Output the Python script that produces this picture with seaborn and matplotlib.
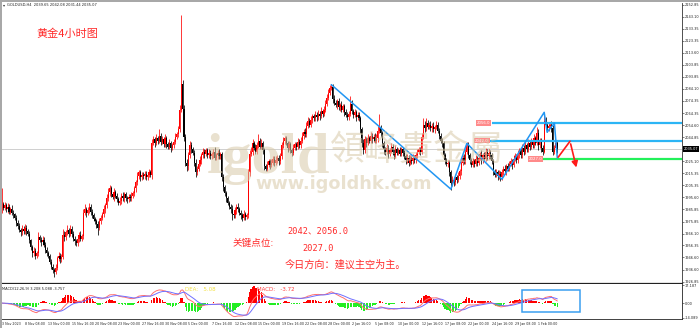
import numpy as np
import pandas as pd
import matplotlib
matplotlib.use("Agg")
import matplotlib.pyplot as plt
from matplotlib.patches import Rectangle
import seaborn as sns

# ---------------- data (GOLD H4, one value per 4h bar) ----------------
first_open = 1986.0
closes = [
    1990, 1987, 1989, 1986, 1988, 1984, 1986, 1983, 1982, 1979, 1975, 1972, 1969, 1967, 1970, 1968,
    1971, 1968, 1966, 1961, 1955, 1950, 1952, 1948, 1950, 1963, 1961, 1959, 1961, 1957, 1953, 1950,
    1948, 1943, 1939, 1936, 1935, 1938, 1946, 1948, 1945, 1947, 1965, 1963, 1967, 1969, 1966, 1970,
    1966, 1962, 1960, 1958, 1962, 1965, 1962, 1964, 1983, 1986, 1983, 1985, 1988, 1984, 1981, 1978,
    1976, 1974, 1971, 1976, 1979, 1982, 1986, 1989, 1995, 2000, 2003, 1998, 1996, 2000, 1997, 1994,
    1991, 1993, 1997, 1995, 1998, 1995, 1994, 1996, 1995, 1997, 1999, 2003, 2008, 2013, 2016, 2012,
    2014, 2013, 2015, 2012, 2014, 2016, 2014, 2040, 2043, 2040, 2044, 2042, 2046, 2041, 2043, 2039,
    2044, 2039, 2037, 2040, 2036, 2038, 2041, 2045, 2047, 2051, 2067, 2088, 2068, 2045, 2024, 2021,
    2030, 2038, 2035, 2032, 2024, 2016, 2019, 2023, 2026, 2030, 2033, 2031, 2034, 2030, 2032, 2029,
    2031, 2033, 2028, 2030, 2032, 2029, 2031, 2012, 2004, 1999, 1995, 1991, 1988, 1986, 1982, 1981,
    1985, 1988, 1986, 1983, 1981, 1979, 1982, 1980, 1981, 2016, 2031, 2033, 2040, 2036, 2033, 2038,
    2042, 2037, 2040, 2034, 2021, 2019, 2022, 2025, 2022, 2024, 2027, 2024, 2026, 2028, 2025, 2029,
    2038, 2042, 2044, 2040, 2036, 2039, 2034, 2032, 2036, 2039, 2037, 2041, 2038, 2042, 2046, 2049,
    2047, 2054, 2058, 2055, 2059, 2062, 2060, 2063, 2061, 2064, 2062, 2066, 2064, 2067, 2072, 2077,
    2081, 2085, 2086, 2076, 2073, 2071, 2074, 2069, 2071, 2067, 2070, 2065, 2063, 2061, 2064, 2072,
    2066, 2063, 2065, 2061, 2063, 2060, 2051, 2040, 2034, 2043, 2040, 2044, 2042, 2046, 2043, 2045,
    2042, 2044, 2050, 2052, 2048, 2040, 2035, 2033, 2036, 2031, 2034, 2037, 2033, 2030, 2035, 2032,
    2034, 2031, 2035, 2032, 2029, 2026, 2028, 2024, 2027, 2025, 2028, 2026, 2030, 2033, 2035, 2033,
    2045, 2055, 2052, 2056, 2053, 2055, 2052, 2054, 2051, 2053, 2055, 2050, 2046, 2042, 2040, 2030,
    2026, 2023, 2024, 2016, 2007, 2010, 2008, 2012, 2010, 2013, 2017, 2024, 2028, 2025, 2033, 2038,
    2030, 2026, 2022, 2025, 2023, 2027, 2024, 2028, 2031, 2026, 2030, 2027, 2033, 2029, 2032, 2030,
    2025, 2017, 2014, 2016, 2013, 2015, 2012, 2016, 2019, 2017, 2021, 2019, 2023, 2025, 2022, 2027,
    2029, 2026, 2031, 2034, 2030, 2036, 2033, 2038, 2035, 2040, 2037, 2041, 2038, 2044, 2040, 2048,
    2038, 2042, 2036, 2033, 2058, 2055, 2052, 2054, 2055, 2052, 2033, 2036, 2039.65, 2035.07,
]
wick_up = [
    13, 2, 3, 2, 3, 2, 2, 3, 2, 1, 2, 2, 3, 2, 3, 2,
    3, 2, 2, 2, 1, 2, 3, 2, 2, 4, 2, 2, 3, 2, 2, 2,
    2, 1, 2, 2, 2, 3, 2, 3, 2, 2, 5, 3, 2, 4, 2, 3,
    2, 2, 2, 2, 3, 2, 3, 2, 3, 4, 2, 3, 3, 2, 2, 2,
    2, 2, 2, 3, 2, 2, 3, 2, 3, 3, 3, 2, 2, 3, 2, 2,
    2, 3, 2, 3, 2, 2, 2, 2, 2, 3, 2, 2, 2, 3, 2, 2,
    2, 2, 2, 2, 2, 3, 2, 3, 3, 2, 3, 2, 5, 2, 3, 2,
    3, 2, 2, 3, 2, 2, 2, 3, 2, 3, 4, 56.5, 3, 3, 2, 3,
    3, 4, 3, 2, 2, 3, 2, 2, 3, 2, 3, 2, 2, 2, 3, 2,
    2, 2, 4, 2, 2, 3, 2, 2, 3, 2, 2, 2, 2, 2, 3, 2,
    3, 2, 3, 2, 2, 2, 3, 2, 2, 3, 3, 4, 3, 2, 3, 3,
    5, 2, 3, 2, 2, 2, 3, 2, 2, 3, 2, 2, 3, 2, 2, 3,
    3, 3, 2, 2, 2, 3, 2, 2, 3, 2, 2, 3, 2, 3, 3, 2,
    3, 3, 3, 2, 3, 2, 2, 3, 2, 3, 2, 3, 2, 3, 3, 3,
    3, 2, 2, 2, 3, 2, 2, 3, 2, 3, 2, 2, 3, 2, 2, 6,
    3, 2, 3, 2, 2, 2, 2, 2, 3, 3, 2, 3, 2, 3, 2, 2,
    3, 3, 4, 12, 3, 2, 2, 2, 3, 2, 2, 3, 2, 2, 3, 2,
    2, 3, 2, 2, 2, 2, 3, 2, 3, 2, 3, 2, 3, 2, 2, 2,
    3, 5, 3, 4, 3, 2, 3, 2, 3, 2, 3, 2, 2, 2, 2, 2,
    2, 2, 2, 2, 2, 3, 2, 3, 2, 3, 2, 3, 2, 3, 2, 3,
    3, 2, 2, 3, 2, 3, 2, 3, 2, 3, 2, 3, 3, 2, 3, 2,
    2, 2, 2, 3, 2, 3, 2, 3, 2, 3, 2, 3, 2, 3, 2, 3,
    3, 2, 3, 2, 2, 3, 2, 3, 2, 3, 2, 3, 2, 3, 2, 5,
    3, 2, 2, 2, 7, 3, 2, 2, 1, 3, 3, 2, 2, 2.43,
]
wick_dn = [
    3, 2, 2, 2, 3, 2, 2, 2, 3, 2, 3, 2, 2, 3, 2, 2,
    2, 3, 2, 3, 2, 3, 2, 3, 2, 2, 2, 3, 2, 2, 3, 2,
    2, 2, 2, 2, 4, 2, 2, 2, 3, 2, 2, 3, 2, 2, 3, 2,
    3, 2, 3, 2, 2, 3, 2, 2, 2, 2, 3, 2, 2, 3, 2, 2,
    2, 3, 6, 2, 2, 2, 2, 3, 2, 2, 3, 2, 2, 3, 2, 2,
    2, 2, 3, 2, 3, 2, 3, 2, 2, 2, 2, 2, 3, 2, 2, 3,
    2, 2, 2, 2, 2, 2, 2, 3, 2, 3, 2, 3, 2, 3, 2, 2,
    2, 3, 2, 2, 3, 2, 2, 2, 2, 2, 2, 2, 3, 3, 3, 4,
    3, 2, 3, 2, 3, 4, 2, 2, 2, 3, 2, 3, 2, 2, 2, 2,
    2, 3, 2, 2, 3, 2, 2, 3, 3, 2, 3, 2, 2, 3, 5, 2,
    2, 3, 2, 2, 3, 3, 2, 3, 2, 2, 3, 2, 3, 2, 2, 2,
    2, 2, 2, 3, 3, 2, 2, 2, 3, 2, 2, 3, 2, 2, 3, 2,
    2, 2, 3, 2, 3, 2, 2, 3, 2, 2, 3, 2, 2, 2, 2, 3,
    2, 2, 2, 2, 2, 3, 2, 2, 3, 2, 3, 2, 3, 2, 2, 2,
    2, 2, 2, 3, 2, 2, 3, 2, 3, 2, 2, 3, 2, 2, 2, 2,
    2, 3, 2, 3, 2, 2, 3, 3, 3, 2, 3, 2, 2, 2, 3, 2,
    2, 2, 3, 2, 3, 3, 4, 3, 2, 3, 2, 2, 3, 3, 2, 2,
    2, 2, 2, 3, 2, 3, 2, 3, 2, 2, 2, 2, 2, 2, 2, 3,
    2, 2, 3, 2, 2, 2, 2, 3, 2, 3, 2, 2, 3, 2, 3, 3,
    3, 2, 3, 3, 5, 2, 3, 2, 3, 2, 2, 3, 2, 2, 2, 2,
    2, 3, 2, 2, 3, 2, 3, 2, 2, 3, 2, 2, 2, 3, 2, 3,
    2, 3, 2, 2, 3, 2, 3, 2, 2, 2, 3, 2, 2, 2, 3, 2,
    2, 2, 2, 3, 2, 2, 3, 2, 2, 2, 3, 2, 2, 2, 2, 2,
    4, 2, 3, 3, 1, 2, 3, 2, 2, 3, 3, 2, 2, 3.63,
]

x_tick_labels = [
    "3 Nov 2023", "8 Nov 08:00", "13 Nov 00:00", "15 Nov 16:00", "20 Nov 08:00",
    "23 Nov 00:00", "27 Nov 16:00", "30 Nov 08:00", "5 Dec 00:00", "7 Dec 16:00",
    "12 Dec 08:00", "15 Dec 00:00", "19 Dec 16:00", "22 Dec 08:00", "28 Dec 00:00",
    "2 Jan 16:00", "5 Jan 08:00", "10 Jan 00:00", "12 Jan 16:00", "17 Jan 08:00",
    "22 Jan 00:00", "24 Jan 16:00", "29 Jan 08:00", "1 Feb 00:00",
]
bars_per_label = 16
price_ticks = [2152.85, 2143.10, 2133.35, 2123.35, 2113.60, 2103.85, 2093.85, 2084.10,
               2074.35, 2064.35, 2054.60, 2044.85, 2025.10, 2015.35, 2005.35, 1995.60,
               1985.85, 1975.85, 1966.10, 1956.35, 1946.60, 1936.60, 1926.85]
current_price = 2035.07
title_text = "GOLDUSD,H4  2039.65 2042.08 2031.44 2035.07"

macd_ticks = [17.187, 0.0, -14.089]
macd_tick_labels = ["17.187", "0.00", "-14.089"]
macd_title = "MACD(12,26,9) 3.208 5.088 -3.757"

level_prices = [2056.0, 2042.0, 2027.0]
level_start = [336, 335, 371]
level_colors = ["#2cb5f5", "#2cb5f5", "#22f05a"]
level_label_x = [330.4, 329.4, 366.0]
level_labels = ["2056.0", "2042.0", "2027.0"]

zz_idx = [226, 308, 319, 343, 372, 374, 379, 381]
zz_price = [2087.6, 2002.3, 2039.7, 2010.4, 2065.0, 2048.8, 2056.1, 2027.6]
arrow_idx = [381.6, 389.7, 394.5]
arrow_price = [2028.4, 2041.4, 2017.8]

box_idx = [356.5, 396.5]
box_val = [-9.1, 12.8]

# ---------------- derived table ----------------
n = len(closes)
idx = np.arange(n)
opens = [first_open] + closes[:-1]
highs = [max(o, c) + u for o, c, u in zip(opens, closes, wick_up)]
lows = [min(o, c) - d for o, c, d in zip(opens, closes, wick_dn)]
df = pd.DataFrame(dict(i=idx, open=opens, high=highs, low=lows, close=closes))
s = df["close"]
dif = s.ewm(span=12, adjust=False).mean() - s.ewm(span=26, adjust=False).mean()
dea = dif.ewm(span=9, adjust=False).mean()
hist = 2 * (dif - dea)

# ---------------- style ----------------
sns.set_style("white")
plt.rcParams["font.family"] = ["DejaVu Sans", "Noto Sans CJK SC"]
plt.rcParams["axes.linewidth"] = 0.6

W, H = 700, 328
fig = plt.figure(figsize=(7.0, 3.28), dpi=100)
fig.patch.set_facecolor("white")

def fx(px):
    return px / W

def fy(py):
    return (H - py) / H

ax = fig.add_axes([fx(1), fy(283.3), fx(682) - fx(1), fy(3) - fy(283.3)])
ax2 = fig.add_axes([fx(1), fy(318.8), fx(682) - fx(1), fy(284.3) - fy(318.8)], sharex=ax)

xmin, xmax = -0.48, 466.5
ax.set_xlim(xmin, xmax)
ax.set_ylim(1925.5, 2154.2)

# candles
up = (df["close"] >= df["open"]).values
colors = np.where(up, "#ff0000", "#000000")
ax.vlines(df["i"], df["low"], df["high"], colors=colors, linewidth=0.55, zorder=3)
body = (df["close"] - df["open"]).abs().clip(lower=0.4)
ax.bar(df["i"], body, bottom=np.minimum(df["open"], df["close"]), width=0.75,
       color=colors, linewidth=0, zorder=3)

# current price line
ax.axhline(current_price, color="#cfcfcf", lw=0.7, zorder=1)

# levels
for p, st, c, lx, lab in zip(level_prices, level_start, level_colors, level_label_x, level_labels):
    ax.hlines(p, st, xmax, colors=c, lw=1.6, zorder=4)
    ax.text(lx, p, lab, fontsize=2.8, color="white", ha="center", va="center", zorder=6,
            bbox=dict(boxstyle="square,pad=0.25", fc="#ff8a8a", ec="none"))

# zigzag + red projection
ax.plot(zz_idx, zz_price, color="#2196f3", lw=1.1, zorder=5)
ax.plot(arrow_idx[:2], arrow_price[:2], color="#ff1a1a", lw=1.2, zorder=5)
ax.annotate("", xy=(arrow_idx[2], arrow_price[2]), xytext=(arrow_idx[1], arrow_price[1]),
            arrowprops=dict(arrowstyle="-|>,head_length=0.35,head_width=0.18",
                            color="#ff1a1a", lw=1.2), zorder=5)

# watermark
wm = dict(transform=ax.transAxes, color="#d8c9a8", alpha=0.55, zorder=7)
ax.text(0.3025, 0.3935, "igold", fontsize=42, fontfamily="Liberation Serif",
        fontweight="bold", ha="left", va="baseline", **wm)
ax.text(0.483, 0.475, "領峰貴金屬", fontsize=25, fontfamily=["Noto Sans CJK TC"],
        ha="left", va="center", **wm)
ax.text(0.373, 0.338, "www.igoldhk.com", fontsize=12.8, fontweight="bold",
        ha="left", va="baseline", **wm)

# annotations (Chinese)
red = "#ff2a2a"
ax.text(0.0514, 0.891, "黄金4小时图", transform=ax.transAxes, fontsize=8,
        color=red, ha="left", va="center", fontfamily=["Noto Sans CJK SC"], zorder=8)
cjk_mono = ["DejaVu Sans Mono", "Noto Sans CJK SC"]
ax.text(0.4200, 0.1848, "2042、2056.0", transform=ax.transAxes, fontsize=6.2,
        color=red, ha="left", va="center", fontfamily=cjk_mono, zorder=8)
ax.text(0.3407, 0.142, "关键点位:", transform=ax.transAxes, fontsize=6.9,
        color=red, ha="left", va="center", fontfamily=["Noto Sans CJK SC"], zorder=8)
ax.text(0.4420, 0.124, "2027.0", transform=ax.transAxes, fontsize=6.2,
        color=red, ha="left", va="center", fontfamily=cjk_mono, zorder=8)
ax.text(0.417, 0.0653, "今日方向：建议主空为主。", transform=ax.transAxes, fontsize=7.3,
        color=red, ha="left", va="center", fontfamily=["Noto Sans CJK SC"], zorder=8)

# price axis styling
ax.yaxis.tick_right()
ax.set_yticks(price_ticks)
ax.set_yticklabels([f"{v:.2f}" for v in price_ticks])
ax.tick_params(axis="y", labelsize=2.55, length=1.2, width=0.4, pad=0.6, colors="#222222")
ax.tick_params(axis="x", bottom=False, labelbottom=False)
for side in ["top", "left"]:
    ax.spines[side].set_visible(False)
ax.spines["right"].set_color("#333333")
ax.spines["bottom"].set_color("#222222")
ax.spines["bottom"].set_linewidth(0.9)
ax.annotate(f"{current_price:.2f}", xy=(1.0025, current_price),
            xycoords=("axes fraction", "data"), fontsize=2.55, color="white",
            ha="left", va="center", annotation_clip=False,
            bbox=dict(boxstyle="square,pad=0.2", fc="black", ec="none"))

# ---------------- MACD pane ----------------
ax2.set_ylim(-15.2, 18.1)
hcol = np.where(hist.values >= 0, "#ff0000", "#22ee22")
ax2.bar(idx, hist.values, width=0.8, color=hcol, linewidth=0, zorder=2)
sns.lineplot(x=idx, y=dif.values, ax=ax2, color="#ff7070", lw=0.7, zorder=3)
sns.lineplot(x=idx, y=dea.values, ax=ax2, color="#7070ff", lw=0.7, zorder=3)
ax2.add_patch(Rectangle((box_idx[0], box_val[0]), box_idx[1] - box_idx[0],
                        box_val[1] - box_val[0], fill=False, ec="#3a9ff0", lw=1.1, zorder=4))
ax2.text(0.002, 0.86, macd_title, transform=ax2.transAxes, fontsize=2.6,
         color="#222222", ha="left", va="center")
ax2.text(0.2697, 0.86, "DEA:   5.08", transform=ax2.transAxes, fontsize=4.0,
         color="#f2e040", ha="left", va="center")
ax2.text(0.3760, 0.86, "MACD:   -3.72", transform=ax2.transAxes, fontsize=4.0,
         color="#ff4040", ha="left", va="center")
ax2.yaxis.tick_right()
ax2.set_yticks(macd_ticks)
ax2.set_yticklabels(macd_tick_labels)
ax2.tick_params(axis="y", labelsize=2.55, length=1.2, width=0.4, pad=0.6, colors="#222222")
ax2.set_xticks(list(range(0, bars_per_label * len(x_tick_labels), bars_per_label)))
ax2.set_xticklabels(x_tick_labels, ha="left")
ax2.tick_params(axis="x", labelsize=2.35, length=1.3, width=0.4, pad=0.8, colors="#222222")
ax2.spines["left"].set_visible(False)
ax2.spines["top"].set_visible(False)
for side in ["right", "bottom"]:
    ax2.spines[side].set_color("#222222")
ax2.set_xlabel("")
ax2.set_ylabel("")
ax2.set_xlim(xmin, xmax)

# window frame + title
fig.add_artist(Rectangle((0, fy(2)), 1, fy(0) - fy(2), transform=fig.transFigure,
                         color="#a8a8a8", lw=0))
fig.add_artist(Rectangle((0, 0), fx(1.5), 1, transform=fig.transFigure,
                         color="#a8a8a8", lw=0))
fig.text(fx(3), fy(5), "▾", fontsize=3, color="#333333", ha="left", va="center")
fig.text(fx(7), fy(5), title_text, fontsize=2.6, color="#222222", ha="left", va="center")

fig.savefig("out.png", dpi=100, facecolor="white")
